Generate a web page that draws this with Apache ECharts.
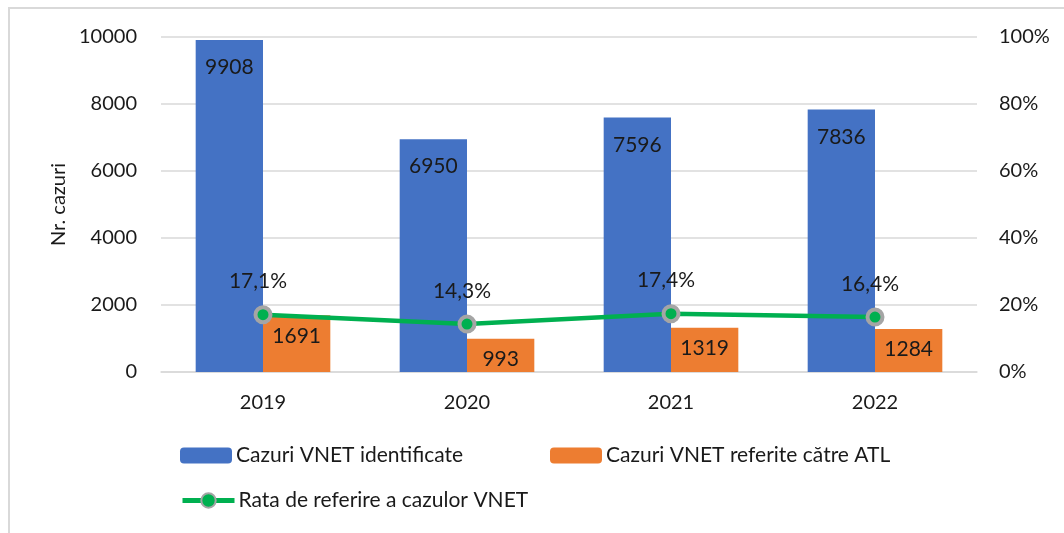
<!DOCTYPE html>
<html>
<head>
<meta charset="utf-8">
<script src="https://cdn.jsdelivr.net/npm/echarts@6/dist/echarts.min.js"></script>
<style>
  html, body { margin: 0; padding: 0; background: #fff; }
  #chart { width: 1064px; height: 533px; }
</style>
</head>
<body>
<div id="chart"></div>
<script>
const years = ['2019', '2020', '2021', '2022']
const identified = [9908, 6950, 7596, 7836]
const referred = [1691, 993, 1319, 1284]
const rate = [0.171, 0.143, 0.174, 0.164]

const FONT = 'Lato'
const TEXT = '#1a1a1a'

const chart = echarts.init(document.getElementById('chart'))

const pct = v => (v * 100).toFixed(1).replace('.', ',') + '%'

const legendText = { fontSize: 21, color: TEXT, fontFamily: FONT, padding: [0, 0, 0, -1] }

const option = {
  backgroundColor: '#fff',
  textStyle: { fontFamily: FONT },
  animation: false,
  graphic: [
    {
      type: 'rect',
      shape: { x: 9, y: 8, width: 1070, height: 540 },
      style: { fill: 'none', stroke: '#d9d9d9', lineWidth: 2 }
    }
  ],
  grid: { left: 161, right: 87, top: 37, bottom: 161 },
  legend: [
    {
      left: 180, top: 445, padding: 0,
      itemWidth: 52, itemHeight: 16,
      data: ['Cazuri VNET identificate'],
      textStyle: legendText
    },
    {
      left: 550, top: 445, padding: 0,
      itemWidth: 52, itemHeight: 16,
      data: ['Cazuri VNET referite către ATL'],
      textStyle: legendText
    },
    {
      left: 180, top: 490, padding: 0,
      itemWidth: 52, itemHeight: 18,
      data: ['Rata de referire a cazulor VNET'],
      lineStyle: { width: 5, color: '#00B050' },
      textStyle: legendText
    }
  ],
  xAxis: {
    type: 'category',
    data: years,
    axisLine: { lineStyle: { color: '#d9d9d9', width: 1.5 } },
    axisTick: { show: false },
    axisLabel: { fontSize: 20, color: TEXT, margin: 21, fontFamily: FONT }
  },
  yAxis: [
    {
      type: 'value',
      min: 0, max: 10000, interval: 2000,
      name: 'Nr. cazuri',
      nameLocation: 'middle',
      nameGap: 89,
      nameTextStyle: { fontSize: 20, color: TEXT, fontFamily: FONT },
      axisLine: { show: false },
      axisTick: { show: false },
      axisLabel: {
        fontSize: 20, color: TEXT, margin: 24, fontFamily: FONT,
        formatter: v => String(v)
      },
      splitLine: { lineStyle: { color: '#d9d9d9', width: 1.5 } }
    },
    {
      type: 'value',
      min: 0, max: 1, interval: 0.2,
      axisLine: { show: false },
      axisTick: { show: false },
      splitLine: { show: false },
      axisLabel: {
        fontSize: 20, color: TEXT, margin: 22, fontFamily: FONT,
        formatter: v => Math.round(v * 100) + '%'
      }
    }
  ],
  series: [
    {
      name: 'Cazuri VNET identificate',
      type: 'bar',
      data: identified,
      barGap: '0%',
      barCategoryGap: '34%',
      itemStyle: { color: '#4472C4' },
      label: {
        show: true, position: 'insideTop', distance: 17,
        fontSize: 21, color: TEXT, fontFamily: FONT
      }
    },
    {
      name: 'Cazuri VNET referite către ATL',
      type: 'bar',
      data: referred,
      itemStyle: { color: '#ED7D31' },
      label: {
        show: true, position: 'insideTop', distance: 10,
        fontSize: 21, color: TEXT, fontFamily: FONT
      }
    },
    {
      name: 'Rata de referire a cazulor VNET',
      type: 'line',
      yAxisIndex: 1,
      data: rate,
      symbol: 'circle',
      symbolSize: 15,
      lineStyle: { color: '#00B050', width: 4.5 },
      itemStyle: { color: '#00B050', borderColor: '#A5A5A5', borderWidth: 4 },
      label: {
        show: true, position: 'top', distance: 13, offset: [-5, 0],
        fontSize: 21, color: TEXT, fontFamily: FONT,
        formatter: p => pct(p.value)
      },
      z: 5
    }
  ]
}

chart.setOption(option)
</script>
</body>
</html>
